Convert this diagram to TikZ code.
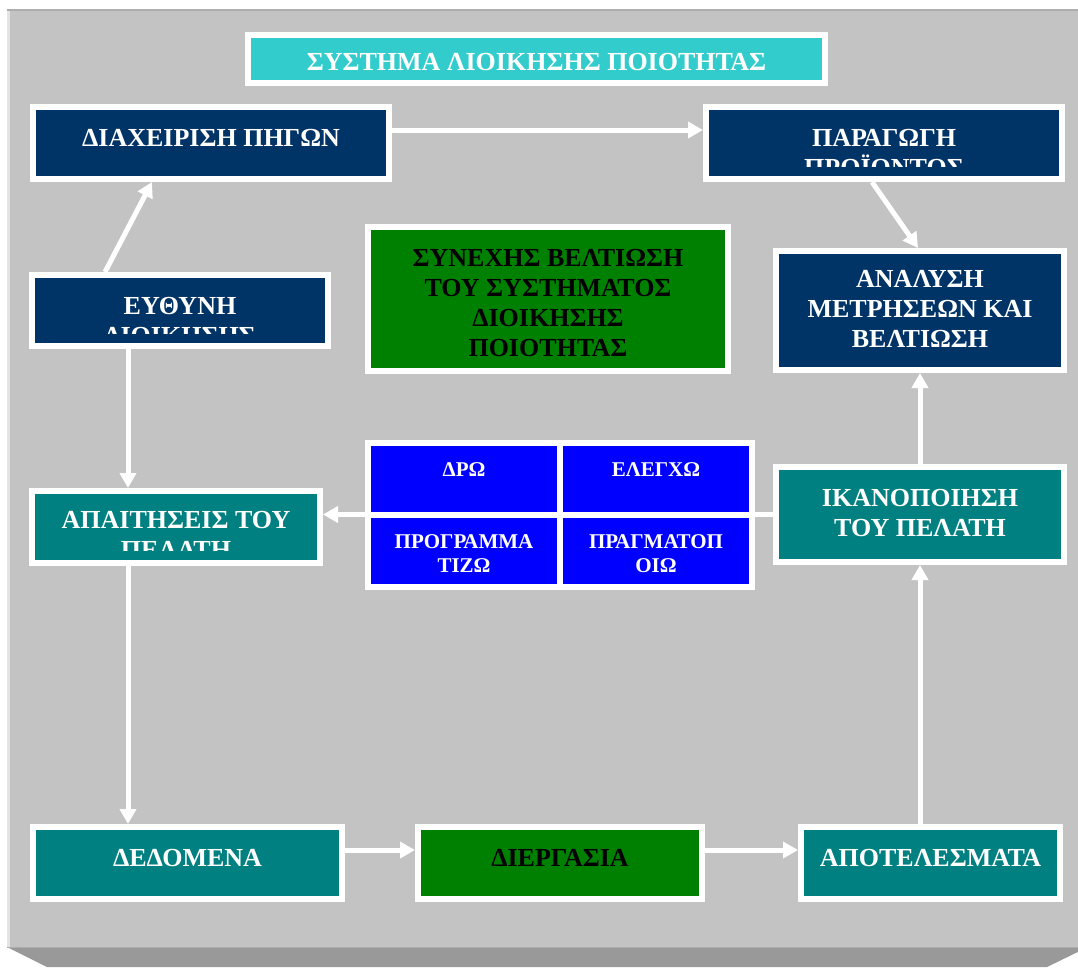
\documentclass[tikz,border=0pt]{standalone}
\usepackage{fontspec}
\setmainfont{Liberation Serif}
\usetikzlibrary{arrows.meta}

\definecolor{qnavy}{HTML}{003366}
\definecolor{qteal}{HTML}{008080}
\definecolor{qgreen}{HTML}{008000}
\definecolor{qcyan}{HTML}{33CCCC}
\definecolor{qblue}{HTML}{0000FF}
\definecolor{qgray}{HTML}{C3C3C3}
\definecolor{qshade}{HTML}{999999}
\definecolor{qedge}{HTML}{E4E4E4}
\definecolor{qline}{HTML}{ADADAD}

\tikzset{
  cap drop/.initial=19pt,
  cap clip/.initial=13pt,
  cap ink/.initial=white,
  cap font/.initial={\bfseries\fontsize{26}{30}\selectfont},
  panel/.style={rectangle, draw=white, line width=6pt, inner sep=0pt},
  caption/.style={path picture={
    \clip ([yshift=-3pt]path picture bounding box.north west) rectangle
          ([yshift=\pgfkeysvalueof{/tikz/cap clip}]path picture bounding box.south east);
    \node[anchor=north, inner sep=0pt, minimum width=0pt, minimum height=0pt,
          draw=none, fill=none, align=center,
          text=\pgfkeysvalueof{/tikz/cap ink}, font=\pgfkeysvalueof{/tikz/cap font}]
      at ([yshift=-\pgfkeysvalueof{/tikz/cap drop}]path picture bounding box.north) {#1};}},
  cell/.style={panel, fill=qblue, minimum width=192pt, minimum height=72pt,
    cap drop=17pt, cap font={\bfseries\fontsize{21}{24}\selectfont}},
  flow/.style={draw=white, line width=5pt, -{Triangle[length=15pt,width=16pt]}},
}

\begin{document}
\begin{tikzpicture}[x=1pt, y=-1pt]
  \useasboundingbox (0,0) rectangle (1078,967);
  % frame
  \fill[qgray] (8,10) rectangle (1090,947);
  \fill[qshade] (7,947) -- (1088,947) -- (1047,967) -- (47,967) -- cycle;
  \fill[qedge] (7,10) rectangle (10,947);
  \draw[qline, line width=1.5pt] (7,10) -- (1090,10);
  \draw[qline] (7,947) -- (1090,947);

  % boxes
  \node[panel, fill=qcyan, minimum width=577pt, minimum height=48pt, cap drop=15pt, cap clip=8pt,
        caption={ΣΥΣΤΗΜΑ ΛΙΟΙΚΗΣΗΣ ΠΟΙΟΤΗΤΑΣ}] (title) at (536.5,59) {};
  \node[panel, fill=qnavy, minimum width=356pt, minimum height=72pt,
        caption={ΔΙΑΧΕΙΡΙΣΗ ΠΗΓΩΝ}] (resources) at (211,143) {};
  \node[panel, fill=qnavy, minimum width=356pt, minimum height=72pt,
        caption={ΠΑΡΑΓΩΓΗ\\ΠΡΟΪΟΝΤΟΣ}] (product) at (884,143) {};
  \node[panel, fill=qnavy, minimum width=296pt, minimum height=71pt,
        caption={ΕΥΘΥΝΗ\\ΔΙΟΙΚΗΣΗΣ}] (duty) at (180,310.5) {};
  \node[panel, fill=qgreen, minimum width=360pt, minimum height=144pt, cap ink=black,
        caption={ΣΥΝΕΧΗΣ ΒΕΛΤΙΩΣΗ\\ΤΟΥ ΣΥΣΤΗΜΑΤΟΣ\\ΔΙΟΙΚΗΣΗΣ\\ΠΟΙΟΤΗΤΑΣ}] (improve) at (548,299) {};
  \node[panel, fill=qnavy, minimum width=288pt, minimum height=119pt, cap drop=16pt,
        caption={ΑΝΑΛΥΣΗ\\ΜΕΤΡΗΣΕΩΝ ΚΑΙ\\ΒΕΛΤΙΩΣΗ}] (analysis) at (920,310.5) {};
  \node[panel, fill=qteal, minimum width=288pt, minimum height=72pt, cap drop=17pt,
        caption={ΑΠΑΙΤΗΣΕΙΣ ΤΟΥ\\ΠΕΛΑΤΗ}] (needs) at (176,527) {};
  \node[panel, fill=qteal, minimum width=288pt, minimum height=95pt,
        caption={ΙΚΑΝΟΠΟΙΗΣΗ\\ΤΟΥ ΠΕΛΑΤΗ}] (satisfy) at (920,514.5) {};
  \node[panel, fill=qteal, minimum width=309pt, minimum height=72pt,
        caption={ΔΕΔΟΜΕΝΑ}] (input) at (187.5,863) {};
  \node[panel, fill=qgreen, minimum width=284pt, minimum height=72pt, cap ink=black,
        caption={ΔΙΕΡΓΑΣΙΑ}] (process) at (560,863) {};
  \node[panel, fill=qteal, minimum width=259pt, minimum height=72pt,
        caption={ΑΠΟΤΕΛΕΣΜΑΤΑ}] (output) at (930.5,863) {};

  % arrows
  \draw[flow] ([yshift=13pt]resources.east) -- ([yshift=13pt]product.west);
  \draw[flow] ([xshift=-12pt]product.south) -- ([xshift=-2pt]analysis.north);
  \draw[flow] ([xshift=-75pt]duty.north) -- ([xshift=-59pt]resources.south);
  \draw[flow] ([xshift=-52pt]duty.south) -- ([xshift=-48pt]needs.north);
  \draw[flow] ([xshift=-48pt]needs.south) -- ([xshift=-59.5pt]input.north);
  \draw[flow] ([yshift=13pt]input.east) -- ([yshift=13pt]process.west);
  \draw[flow] ([yshift=13pt]process.east) -- ([yshift=13pt]output.west);
  \draw[flow] ([xshift=-10.5pt]output.north) -- (satisfy.south);
  \draw[flow] (satisfy.north) -- (analysis.south);
  \draw[flow] (satisfy.west) -- (satisfy.west -| needs.east);

  % PDCA table
  \node[cell, caption={ΔΡΩ}] (doit) at (464,479) {};
  \node[cell, caption={ΕΛΕΓΧΩ}] (check) at (656,479) {};
  \node[cell, caption={ΠΡΟΓΡΑΜΜΑ\\ΤΙΖΩ}] (plan) at (464,551) {};
  \node[cell, caption={ΠΡΑΓΜΑΤΟΠ\\ΟΙΩ}] (act) at (656,551) {};
\end{tikzpicture}
\end{document}
